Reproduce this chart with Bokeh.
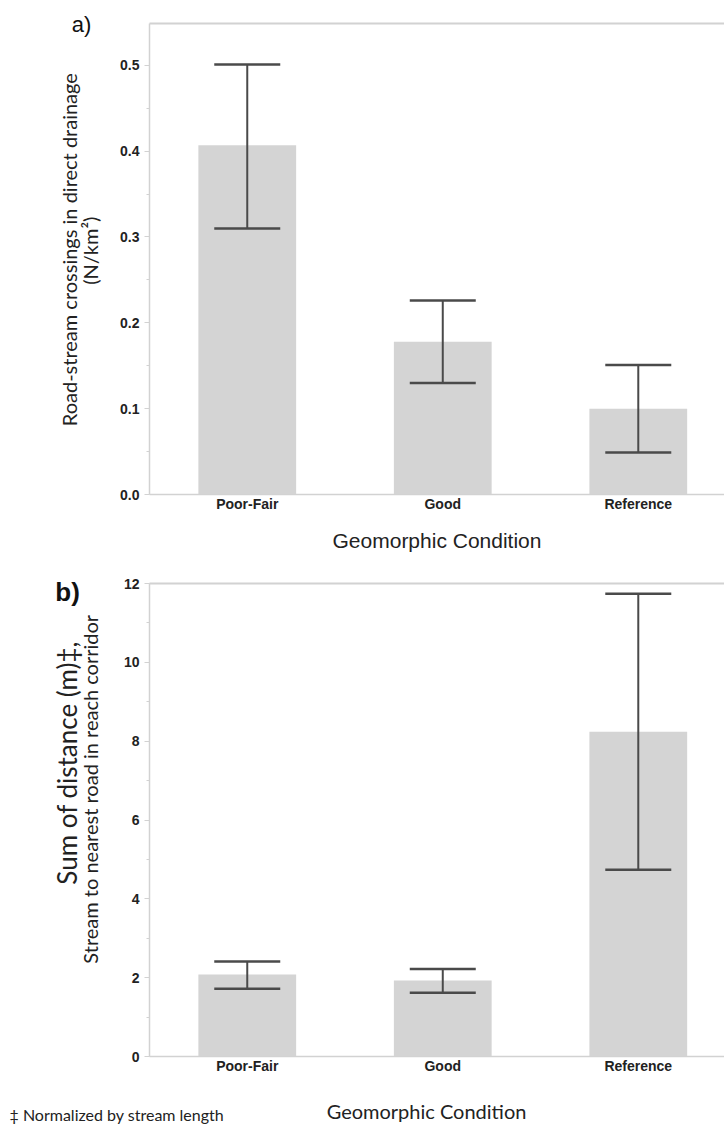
import math
from bokeh.plotting import figure
from bokeh.layouts import column
from bokeh.models import (ColumnDataSource, Whisker, TeeHead, Label, FixedTicker,
                          LinearAxis, Range1d, SingleIntervalTicker, PrintfTickFormatter)
from bokeh.embed import file_html
from bokeh.resources import INLINE

# ---------------- data ----------------
categories = ["Poor-Fair", "Good", "Reference"]
a_mean = [0.407, 0.178, 0.100]
a_lower = [0.310, 0.130, 0.049]
a_upper = [0.501, 0.226, 0.151]
b_mean = [2.08, 1.93, 8.24]
b_lower = [1.72, 1.62, 4.74]
b_upper = [2.41, 2.22, 11.74]
a_ylabel_1 = "Road-stream crossings in direct drainage"
a_ylabel_2 = "(N/km\u00b2)"
b_ylabel_1 = "Sum of distance (m)\u2021,"
b_ylabel_2 = "Stream to nearest road in reach corridor"
xlabel = "Geomorphic Condition"
footnote = "\u2021 Normalized by stream length"

xpos = [i + 0.5 for i in range(len(categories))]
BAR = "#d4d4d4"
ERR = "#4a4a4a"
AX = "#d2d2d2"
TXT = "#222222"
SANS = "Liberation Sans"
HUM = "Lato"


def make_panel(height, top_border, bottom_border, y_end, interval, fmt, mean, lower, upper,
               tick_size, xlab=None):
    p = figure(width=724, height=height, output_backend="svg", toolbar_location=None,
               x_range=Range1d(0, 2.941), y_range=Range1d(0, y_end),
               min_border_left=149, min_border_right=0, min_border_top=top_border,
               min_border_bottom=bottom_border)
    p.grid.visible = False
    p.outline_line_color = None
    p.background_fill_color = "white"
    p.border_fill_color = "white"

    src = ColumnDataSource(dict(x=xpos, top=mean, lower=lower, upper=upper))
    p.vbar(x="x", top="top", bottom=0, width=0.5, source=src,
           fill_color=BAR, line_color=None)
    w = Whisker(base="x", lower="lower", upper="upper", source=src, level="annotation",
                line_color=ERR, line_width=2,
                upper_head=TeeHead(size=66, line_color=ERR, line_width=2.5),
                lower_head=TeeHead(size=66, line_color=ERR, line_width=2.5))
    p.add_layout(w)

    # x axis (bottom)
    xa = p.below[0]
    xa.ticker = FixedTicker(ticks=xpos)
    xa.major_label_overrides = {x: c for x, c in zip(xpos, categories)}
    xa.major_tick_line_color = None
    xa.minor_tick_line_color = None
    xa.major_tick_out = 0
    xa.major_tick_in = 0
    xa.minor_tick_out = 0
    xa.minor_tick_in = 0
    xa.axis_line_color = AX
    xa.axis_line_width = 1.5
    xa.major_label_text_font = SANS
    xa.major_label_text_font_style = "bold"
    xa.major_label_text_font_size = "14px"
    xa.major_label_text_color = TXT
    xa.major_label_standoff = 1
    if xlab is not None:
        xa.axis_label = xlab
        xa.axis_label_text_font = SANS
        xa.axis_label_text_font_style = "normal"
        xa.axis_label_text_font_size = "21px"
        xa.axis_label_text_color = TXT
        xa.axis_label_standoff = 14

    # y axis
    ya = p.left[0]
    ya.ticker = SingleIntervalTicker(interval=interval, num_minor_ticks=2)
    ya.formatter = PrintfTickFormatter(format=fmt)
    ya.axis_line_color = AX
    ya.axis_line_width = 1.5
    ya.major_tick_line_color = AX
    ya.minor_tick_line_color = AX
    ya.major_tick_out = 5
    ya.major_tick_in = 0
    ya.minor_tick_out = 3
    ya.minor_tick_in = 0
    ya.major_label_text_font = SANS
    ya.major_label_text_font_style = "bold"
    ya.major_label_text_font_size = tick_size
    ya.major_label_text_color = TXT
    ya.major_label_standoff = 5

    # top border line
    top = LinearAxis(ticker=FixedTicker(ticks=[]), axis_line_color=AX, axis_line_width=2,
                     major_tick_line_color=None, minor_tick_line_color=None,
                     major_tick_out=0, minor_tick_out=0,
                     major_label_text_font_size="0px")
    p.add_layout(top, "above")
    return p


def vlabel(p, x, y, text, size):
    p.add_layout(Label(x=x, y=y, text=text, angle=math.pi / 2,
                       text_align="center", text_baseline="middle", text_font=HUM,
                       text_font_size=size, text_color=TXT), "left")


# ---------------- panel a ----------------
pa = make_panel(556, 23, 62, 0.5487, 0.1, "%.1f", a_mean, a_lower, a_upper, "14px",
                xlab=xlabel)
vlabel(pa, -0.414, 0.2852, a_ylabel_1, "20px")
vlabel(pa, -0.306, 0.284, a_ylabel_2, "20px")
pa.add_layout(Label(x=-0.348, y=0.548, text="a)", text_align="center",
                    text_baseline="middle", text_font=SANS, text_font_size="22px",
                    text_color="#111111"), "left")

# ---------------- panel b ----------------
pb = make_panel(572, 27, 72, 12, 2, "%d", b_mean, b_lower, b_upper, "14px")
vlabel(pb, -0.42, 7.45, b_ylabel_1, "26px")
vlabel(pb, -0.302, 6.78, b_ylabel_2, "20px")
pb.add_layout(Label(x=-0.419, y=11.78, text="b)", text_align="center",
                    text_baseline="middle", text_font=SANS, text_font_style="bold",
                    text_font_size="26px", text_color="#111111"), "left")
pb.add_layout(Label(x=1.417, y=-1.37, text=xlabel, text_align="center",
                    text_baseline="middle", text_font=HUM, text_font_size="20px",
                    text_color=TXT), "below")
pb.add_layout(Label(x=-0.716, y=-1.47, text=footnote, text_align="left",
                    text_baseline="middle", text_font=HUM, text_font_size="16px",
                    text_color=TXT), "below")

layout = column(pa, pb)
open("out.html", "w").write(file_html(layout, INLINE))
